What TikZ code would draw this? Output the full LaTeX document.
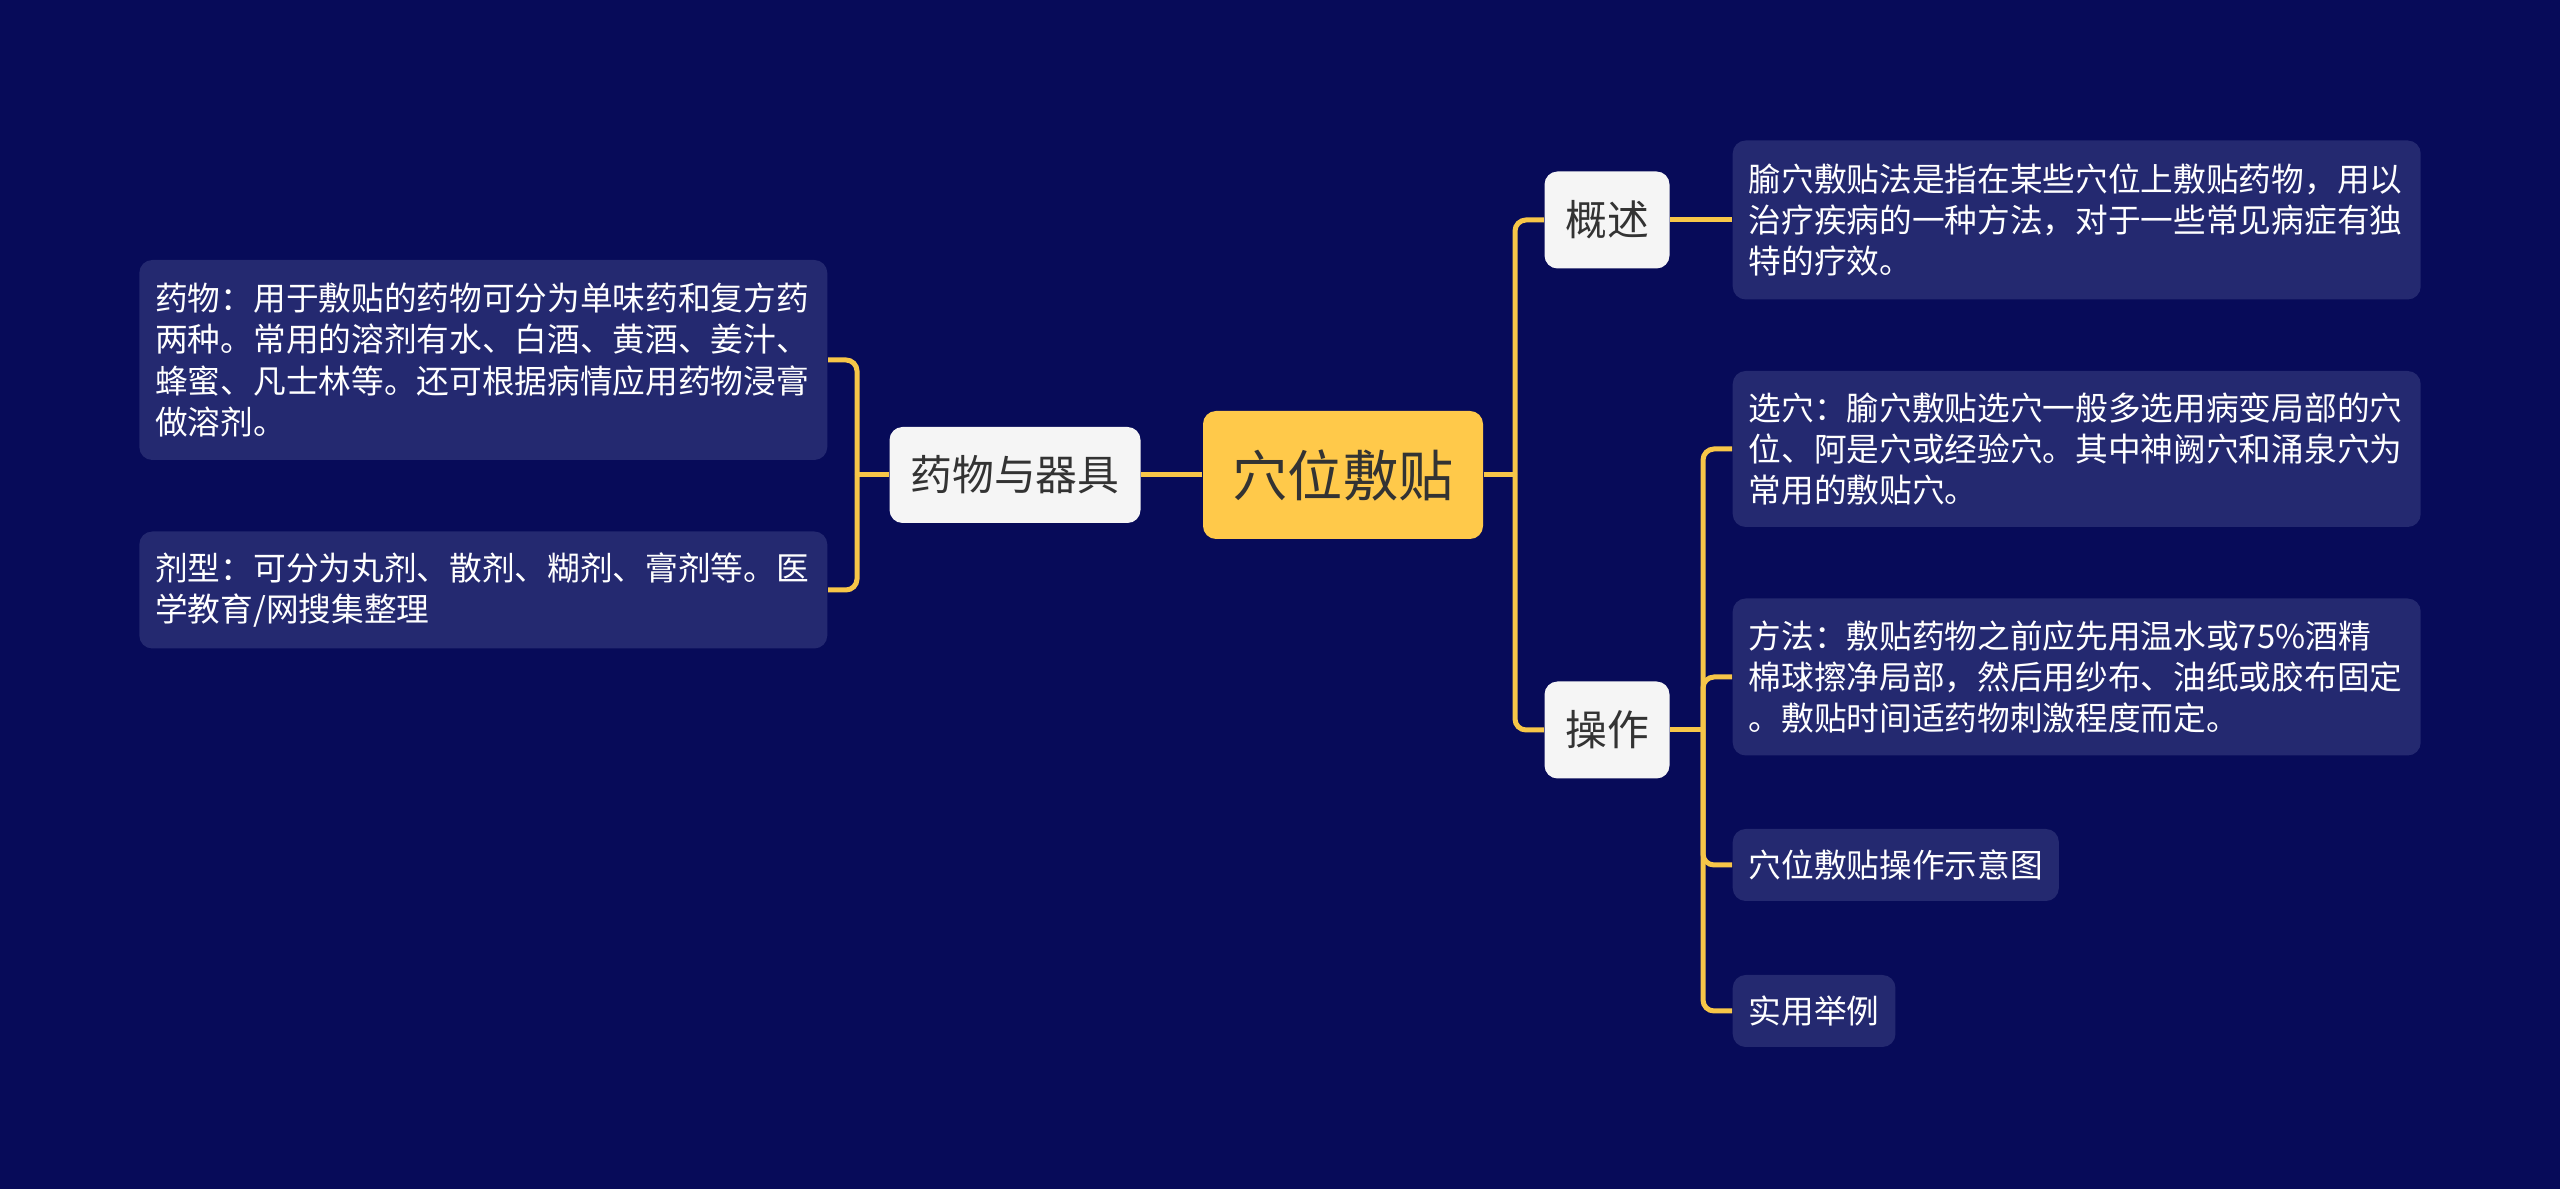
\documentclass[tikz,border=0pt]{standalone}
\usepackage{fontspec}
\newfontfamily\cjk{Noto Sans CJK SC}
\definecolor{bgnavy}{RGB}{7,11,89}
\definecolor{leafblue}{RGB}{36,41,112}
\definecolor{linkyellow}{RGB}{247,198,72}
\definecolor{rootyellow}{RGB}{255,201,74}
\definecolor{topicwhite}{RGB}{245,245,245}
\definecolor{topictext}{RGB}{51,51,51}
\tikzset{
  link/.style={draw=linkyellow, line width=0.5mm, rounded corners=1.1mm},
  topic/.style={fill=topicwhite, text=topictext, rounded corners=1.3mm, inner sep=0pt,
    font=\cjk\fontsize{11.9pt}{14pt}\selectfont},
  leaf/.style={fill=leafblue, text=white, rounded corners=1.3mm, inner xsep=1.6mm, inner ysep=0pt,
    align=left, font=\cjk\fontsize{9.3pt}{11.75pt}\selectfont},
}
\begin{document}
\begin{tikzpicture}[x=0.1mm, y=-0.1mm]
  % background
  \fill[bgnavy] (0,0) rectangle (2560,1189);
  \useasboundingbox (0,0) rectangle (2560,1189);
  % centre and main topics
  \node[topic, fill=rootyellow, text=black!80, minimum width=28mm, minimum height=12.8mm,
    font=\cjk\fontsize{15.7pt}{18pt}\selectfont] (root) at (1343,475) {穴位敷贴};
  \node[topic, minimum width=25.1mm, minimum height=9.6mm] (yaowu) at (1015,475) {药物与器具};
  \node[topic, minimum width=12.5mm, minimum height=9.7mm] (gaishu) at (1607,220) {概述};
  \node[topic, minimum width=12.5mm, minimum height=9.7mm] (caozuo) at (1607,730) {操作};
  % left leaves
  \node[leaf, anchor=east, text width=65.6mm, minimum height=20mm] (yaowuA) at (828,360)
    {药物：用于敷贴的药物可分为单味药和复方药\\两种。常用的溶剂有水、白酒、黄酒、姜汁、\\蜂蜜、凡士林等。还可根据病情应用药物浸膏\\做溶剂。};
  \node[leaf, anchor=east, text width=65.6mm, minimum height=11.7mm] (yaowuB) at (828,590)
    {剂型：可分为丸剂、散剂、糊剂、膏剂等。医\\学教育/网搜集整理};
  % right leaves
  \node[leaf, anchor=west, text width=65.6mm, minimum height=15.9mm] (gaishuA) at (1732,220)
    {腧穴敷贴法是指在某些穴位上敷贴药物，用以\\治疗疾病的一种方法，对于一些常见病症有独\\特的疗效。};
  \node[leaf, anchor=west, text width=65.6mm, minimum height=15.6mm] (xuanxue) at (1732,449)
    {选穴：腧穴敷贴选穴一般多选用病变局部的穴\\位、阿是穴或经验穴。其中神阙穴和涌泉穴为\\常用的敷贴穴。};
  \node[leaf, anchor=west, text width=65.6mm, minimum height=15.7mm] (fangfa) at (1732,677)
    {方法：敷贴药物之前应先用温水或75\%酒精\\棉球擦净局部，然后用纱布、油纸或胶布固定\\。敷贴时间适药物刺激程度而定。};
  \node[leaf, anchor=west, minimum height=7.2mm] (shiyi) at (1732,865) {穴位敷贴操作示意图};
  \node[leaf, anchor=west, minimum height=7.2mm] (juli) at (1732,1011) {实用举例};
  % connectors
  \coordinate (jr) at (1515,475);
  \coordinate (jl) at (857,475);
  \coordinate (jc) at (1703,730);
  \draw[link] (root.west) -- (yaowu.east);
  \draw[link] (yaowu.west) -- (jl);
  \foreach \n in {yaowuA, yaowuB}
    \draw[link] (jl) |- (\n.east);
  \draw[link] (root.east) -- (jr);
  \foreach \n in {gaishu, caozuo}
    \draw[link] (jr) |- (\n.west);
  \draw[link] (gaishu.east) -- (gaishuA.west);
  \draw[link] (caozuo.east) -- (jc);
  \foreach \n in {xuanxue, fangfa, shiyi, juli}
    \draw[link] (jc) |- (\n.west);
\end{tikzpicture}
\end{document}
